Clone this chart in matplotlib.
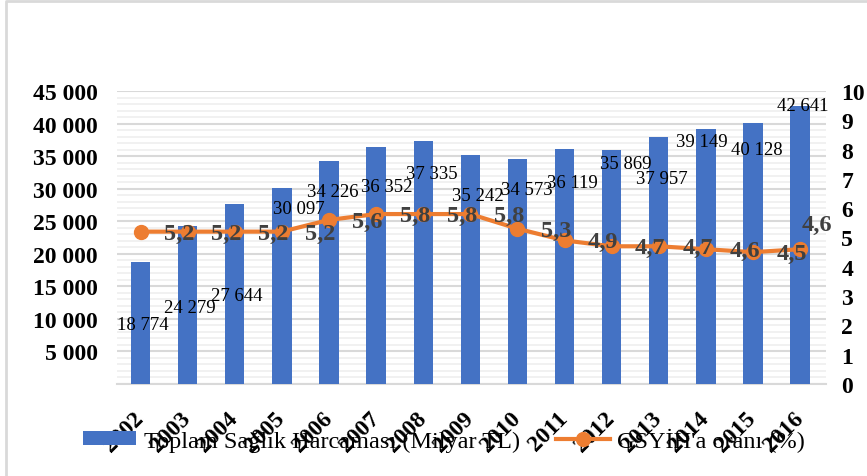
import matplotlib
matplotlib.use("Agg")
import matplotlib.pyplot as plt
from matplotlib.lines import Line2D
from matplotlib.ticker import FuncFormatter, MultipleLocator

# veriler
years = ["2002", "2003", "2004", "2005", "2006", "2007", "2008", "2009",
         "2010", "2011", "2012", "2013", "2014", "2015", "2016"]
harcama = [18774, 24279, 27644, 30097, 34226, 36352, 37335, 35242,
           34573, 36119, 35869, 37957, 39149, 40128, 42641]
oran = [5.2, 5.2, 5.2, 5.2, 5.6, 5.8, 5.8, 5.8, 5.3, 4.9, 4.7, 4.7, 4.6, 4.5, 4.6]

bar_name = "Toplam Sağlık Harcaması (Milyar TL)"
line_name = "GSYİH'a oranı (%)"

# etiketlerin yerleşimi (kaynaktaki gibi dağınık)
bar_label_dx = [0.04, 0.04, 0.04, 0.36, 0.09, 0.23, 0.19, 0.15,
                0.19, 0.17, 0.30, 0.06, -0.08, 0.08, 0.06]
bar_label_y = [9100, 11700, 13600, 27000, 29600, 30300, 32300, 28900,
               29900, 31000, 33800, 31500, 37200, 36000, 42700]

BLUE = "#4472C4"
ORANGE = "#ED7D31"
SERIF = ["Liberation Serif", "DejaVu Serif"]

plt.rcParams["font.family"] = SERIF

fig = plt.figure(figsize=(8.67, 4.77), dpi=100)
ax = fig.add_axes([117 / 867, 1 - 385 / 477, (826 - 117) / 867, (385 - 92) / 477])
x = list(range(len(years)))

ax.bar(x, harcama, width=0.41, color=BLUE, zorder=3, label=bar_name)
for i, v in enumerate(harcama):
    txt = f"{v:,}".replace(",", " ")
    ax.text(i + bar_label_dx[i], bar_label_y[i], txt, ha="center", va="center",
            fontsize=13.5, color="black", zorder=6)

ax.set_xlim(-0.5, len(years) - 0.45)
ax.set_ylim(0, 45000)
ax.yaxis.set_major_locator(MultipleLocator(5000))
ax.yaxis.set_minor_locator(MultipleLocator(1000))
ax.yaxis.set_major_formatter(
    FuncFormatter(lambda v, p: "" if v == 0 else f"{int(v):,}".replace(",", " ")))
ax.grid(axis="y", which="major", color="#d9d9d9", lw=1.5, zorder=0)
ax.grid(axis="y", which="minor", color="#efefef", lw=1.2, zorder=0)
ax.tick_params(axis="y", which="both", length=0, pad=14, labelsize=17)
for lab in ax.get_yticklabels():
    lab.set_fontweight("bold")
ax.set_xticks(x)
ax.set_xticklabels(years, rotation=45, ha="right", va="center",
                   rotation_mode="anchor", fontsize=17, fontweight="bold")
ax.tick_params(axis="x", length=0, pad=22)
for s in ["top", "left", "right"]:
    ax.spines[s].set_visible(False)
ax.spines["bottom"].set_color("#d9d9d9")
ax.spines["bottom"].set_linewidth(1.5)

ax2 = ax.twinx()
ax2.plot(x, oran, color=ORANGE, lw=3, marker="o", markersize=10, zorder=4,
         label=line_name)
ax2.set_ylim(0, 10)
ax2.yaxis.set_major_locator(MultipleLocator(1))
ax2.tick_params(axis="y", length=0, pad=11, labelsize=17)
for lab in ax2.get_yticklabels():
    lab.set_fontweight("bold")
for s in ax2.spines.values():
    s.set_visible(False)

n = len(oran)
for i, v in enumerate(oran):
    if i < n - 1:
        lx, ly = i + 1 - 0.18, v - 0.05
    else:
        lx, ly = i + 0.35, v + 0.85
    ax2.text(lx, ly, f"{v:.1f}".replace(".", ","), ha="center", va="center",
             fontsize=17.5, fontweight="bold", color="#404040", zorder=6)

h1, l1 = ax.get_legend_handles_labels()
h2, l2 = ax2.get_legend_handles_labels()
fig.legend(h1 + h2, l1 + l2, loc="center", bbox_to_anchor=(0.512, 0.0755),
           ncol=2, frameon=False, fontsize=17.5, handlelength=2.2,
           handleheight=0.5, handletextpad=0.3, columnspacing=1.5)

# dış çerçeve
fig.add_artist(Line2D([6 / 867, 6 / 867, 1], [0, 1 - 1.5 / 477, 1 - 1.5 / 477],
                      transform=fig.transFigure, color="#d9d9d9", lw=2))

fig.savefig("out.png", dpi=100, facecolor="white")
